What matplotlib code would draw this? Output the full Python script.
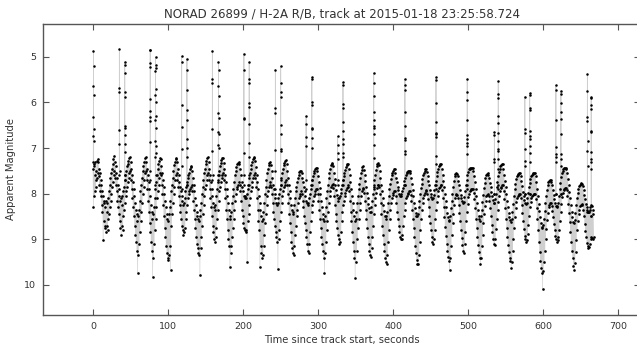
import numpy as np
import matplotlib
matplotlib.use("Agg")
import matplotlib.pyplot as plt

title = "NORAD 26899 / H-2A R/B, track at 2015-01-18 23:25:58.724"
xlabel = "Time since track start, seconds"
ylabel = "Apparent Magnitude"
xticks = [0, 100, 200, 300, 400, 500, 600, 700]
yticks = [5, 6, 7, 8, 9, 10]

# Sampled light curve: one "bright-side" and one "faint-side" reading per second
sample_start = 0.0
sample_step = 1.0
mag_bright = [
7.45,7.35,7.60,7.30,7.50,7.28,7.25,7.30,7.45,7.55,7.70,7.80,7.95,8.05,8.15,8.20,8.30,8.15,8.40,8.20,
8.10,7.95,7.80,7.65,7.55,7.45,7.35,7.25,7.17,7.30,7.40,7.55,7.65,7.80,7.90,8.05,8.15,8.10,8.25,8.05,
7.95,7.85,7.70,7.60,7.50,7.40,7.35,7.28,7.22,7.20,7.30,7.45,7.60,7.75,7.90,8.05,8.20,8.35,8.45,8.60,
8.50,8.35,8.15,7.95,7.80,7.65,7.50,7.40,7.30,7.22,7.20,7.30,7.45,7.60,7.75,7.90,8.05,8.25,8.40,8.55,
8.45,8.30,8.10,7.90,7.75,7.60,7.45,7.35,7.28,7.22,7.25,7.40,7.55,7.70,7.85,8.00,8.15,8.30,8.45,8.55,
8.60,8.45,8.30,8.15,7.95,7.80,7.65,7.50,7.38,7.30,7.24,7.22,7.30,7.45,7.60,7.75,7.85,7.95,8.05,8.15,
8.25,8.20,8.10,7.95,7.85,7.75,7.65,7.60,7.55,7.45,7.42,7.40,7.50,7.65,7.80,7.95,8.10,8.25,8.40,8.50,
8.55,8.60,8.50,8.35,8.20,8.00,7.85,7.70,7.55,7.45,7.35,7.28,7.22,7.20,7.30,7.45,7.60,7.75,7.90,8.05,
8.20,8.30,8.35,8.25,8.05,7.90,7.75,7.60,7.50,7.40,7.32,7.26,7.22,7.22,7.32,7.45,7.60,7.75,7.90,8.05,
8.20,8.35,8.50,8.55,8.40,8.20,8.05,7.90,7.75,7.60,7.50,7.42,7.36,7.32,7.30,7.35,7.45,7.60,7.75,7.85,
7.95,8.05,8.10,8.05,8.10,8.00,7.90,7.80,7.65,7.55,7.45,7.38,7.30,7.25,7.22,7.20,7.28,7.42,7.58,7.75,
7.90,8.05,8.20,8.35,8.50,8.60,8.55,8.40,8.20,8.00,7.85,7.70,7.55,7.45,7.38,7.32,7.30,7.38,7.50,7.65,
7.80,7.90,8.00,8.10,8.20,8.25,8.20,8.10,8.00,7.90,7.80,7.65,7.55,7.45,7.38,7.32,7.28,7.27,7.35,7.50,
7.65,7.80,7.95,8.10,8.25,8.35,8.45,8.40,8.25,8.10,7.95,7.85,7.75,7.65,7.58,7.52,7.50,7.50,7.55,7.65,
7.75,7.85,7.95,8.05,8.15,8.20,8.25,8.20,8.10,8.00,7.90,7.80,7.70,7.62,7.55,7.50,7.46,7.44,7.43,7.50,
7.62,7.75,7.88,8.00,8.15,8.30,8.45,8.55,8.60,8.50,8.30,8.10,7.95,7.80,7.65,7.55,7.45,7.38,7.34,7.33,
7.40,7.55,7.68,7.80,7.92,8.02,8.10,8.15,8.10,8.05,7.98,7.90,7.80,7.70,7.62,7.55,7.48,7.42,7.38,7.35,
7.35,7.45,7.60,7.75,7.90,8.05,8.20,8.35,8.50,8.60,8.55,8.40,8.20,8.05,7.90,7.78,7.65,7.55,7.48,7.42,
7.40,7.48,7.60,7.72,7.85,7.98,8.10,8.22,8.32,8.40,8.40,8.30,8.15,8.00,7.85,7.70,7.58,7.48,7.40,7.35,
7.33,7.38,7.50,7.65,7.80,7.95,8.10,8.25,8.38,8.48,8.55,8.50,8.40,8.20,8.05,7.90,7.78,7.68,7.60,7.54,
7.50,7.47,7.47,7.55,7.65,7.75,7.85,7.92,8.00,8.05,8.05,8.00,7.95,7.88,7.80,7.72,7.65,7.60,7.55,7.52,
7.50,7.50,7.50,7.55,7.65,7.78,7.92,8.05,8.20,8.32,8.42,8.48,8.50,8.45,8.30,8.15,8.00,7.88,7.78,7.68,
7.60,7.54,7.50,7.47,7.46,7.52,7.62,7.72,7.82,7.92,8.00,8.08,8.12,8.10,8.02,7.92,7.82,7.72,7.62,7.52,
7.45,7.40,7.37,7.36,7.36,7.45,7.58,7.72,7.86,8.00,8.15,8.30,8.42,8.52,8.58,8.60,8.50,8.32,8.15,8.00,
7.85,7.72,7.62,7.56,7.55,7.56,7.62,7.72,7.82,7.92,8.02,8.10,8.16,8.20,8.18,8.08,7.95,7.82,7.70,7.60,
7.52,7.47,7.45,7.44,7.43,7.43,7.43,7.50,7.62,7.75,7.90,8.05,8.20,8.35,8.48,8.55,8.60,8.50,8.35,8.18,
8.02,7.88,7.76,7.66,7.60,7.56,7.55,7.58,7.66,7.76,7.86,7.96,8.06,8.14,8.20,8.20,8.12,8.00,7.86,7.74,
7.62,7.52,7.45,7.40,7.37,7.36,7.36,7.45,7.58,7.72,7.86,8.00,8.15,8.30,8.42,8.52,8.58,8.62,8.55,8.40,
8.22,8.05,7.90,7.78,7.68,7.62,7.58,7.56,7.55,7.55,7.62,7.72,7.84,7.96,8.06,8.14,8.20,8.22,8.20,8.10,
7.98,7.86,7.76,7.68,7.62,7.58,7.56,7.55,7.55,7.55,7.62,7.75,7.90,8.05,8.22,8.38,8.52,8.65,8.72,8.75,
8.68,8.55,8.38,8.20,8.05,7.92,7.82,7.75,7.72,7.70,7.70,7.74,7.82,7.92,8.02,8.12,8.20,8.26,8.30,8.28,
8.20,8.05,7.90,7.76,7.64,7.55,7.50,7.46,7.44,7.43,7.43,7.45,7.55,7.68,7.82,7.96,8.10,8.25,8.40,8.52,
8.62,8.65,8.58,8.42,8.25,8.10,7.98,7.90,7.84,7.80,7.78,7.77,7.78,7.84,7.92,8.02,8.12,8.22,8.30,8.36,
8.40,8.40,8.35,8.30,8.25,8.28,8.35,8.45]
mag_faint = [
8.30,8.05,7.95,7.85,7.70,7.65,7.55,7.62,7.80,7.95,8.05,8.25,8.40,9.02,8.60,8.70,8.75,8.85,8.70,8.80,
8.55,8.45,8.30,8.15,8.00,7.85,7.75,7.60,7.50,7.65,7.80,7.95,8.15,8.30,8.45,8.60,8.75,8.90,8.70,8.80,
8.50,8.35,8.20,8.05,7.95,7.85,7.75,7.65,7.55,7.50,7.70,7.90,8.10,8.30,8.50,8.70,8.90,9.05,9.25,9.73,
9.35,9.10,8.85,8.60,8.40,8.20,8.00,7.85,7.70,7.55,7.50,7.70,7.90,8.15,8.40,8.65,8.85,9.05,9.25,9.82,
9.40,9.10,8.80,8.55,8.30,8.10,7.95,7.80,7.65,7.55,7.60,7.80,8.00,8.25,8.50,8.75,8.95,9.15,9.30,9.40,
9.45,9.35,9.15,9.68,8.70,8.45,8.20,8.00,7.85,7.70,7.60,7.55,7.70,7.85,8.05,8.25,8.40,8.55,8.70,8.80,
8.90,8.85,8.75,8.55,8.40,8.25,8.10,8.00,7.95,7.90,7.85,7.80,7.95,8.15,8.35,8.55,8.75,8.95,9.10,9.20,
9.30,9.35,9.78,9.20,8.95,8.70,8.45,8.25,8.05,7.90,7.80,7.70,7.60,7.55,7.70,7.90,8.10,8.30,8.50,8.70,
8.85,9.00,9.05,8.95,8.75,8.55,8.35,8.15,7.95,7.85,7.75,7.65,7.60,7.55,7.70,7.90,8.10,8.35,8.55,8.80,
9.00,9.15,9.60,9.30,9.15,8.95,8.75,8.55,8.35,8.15,8.00,7.90,7.85,7.80,7.75,7.80,7.95,8.15,8.35,8.50,
8.65,8.75,8.80,8.85,8.80,9.50,8.60,8.45,8.25,8.10,7.95,7.85,7.75,7.65,7.60,7.55,7.65,7.85,8.10,8.35,
8.60,8.80,9.60,9.15,9.30,9.40,9.35,9.15,8.90,8.65,8.45,8.25,8.05,7.95,7.85,7.80,7.75,7.85,8.00,8.20,
8.40,8.55,8.70,8.85,8.95,9.05,9.65,9.00,8.80,8.60,8.40,8.20,8.05,7.95,7.85,7.80,7.75,7.70,7.80,8.00,
8.20,8.45,8.65,8.85,9.05,9.20,9.30,9.35,9.15,8.90,8.70,8.50,8.35,8.20,8.10,8.05,8.00,7.95,8.00,8.15,
8.30,8.50,8.65,8.80,8.95,9.10,9.25,9.30,9.10,8.85,8.60,8.40,8.25,8.15,8.05,8.00,7.95,7.90,7.90,8.00,
8.15,8.35,8.55,8.75,8.95,9.10,9.25,9.40,9.75,9.30,9.05,8.80,8.60,8.40,8.20,8.05,7.95,7.85,7.80,7.78,
7.88,8.05,8.25,8.45,8.60,8.75,8.90,9.00,9.10,9.05,8.85,8.60,8.40,8.25,8.15,8.05,7.98,7.92,7.88,7.85,
7.82,7.95,8.15,8.40,8.60,8.85,9.05,9.25,9.40,9.85,9.50,9.25,9.00,8.75,8.55,8.35,8.20,8.05,7.95,7.90,
7.88,7.98,8.15,8.35,8.55,8.75,8.95,9.10,9.25,9.35,9.38,9.20,8.95,8.70,8.45,8.25,8.10,7.98,7.88,7.82,
7.80,7.85,8.00,8.20,8.45,8.70,8.90,9.10,9.25,9.40,9.50,9.55,9.35,9.05,8.80,8.55,8.35,8.20,8.10,8.02,
7.98,7.95,7.95,8.05,8.20,8.40,8.55,8.70,8.85,8.95,9.00,9.00,8.90,8.70,8.50,8.35,8.20,8.10,8.05,8.00,
7.98,7.95,7.95,8.02,8.15,8.35,8.55,8.75,8.95,9.15,9.30,9.45,9.55,9.55,9.35,9.05,8.80,8.55,8.35,8.20,
8.10,8.02,7.98,7.95,7.92,8.00,8.12,8.30,8.48,8.65,8.80,8.95,9.05,9.10,9.00,8.80,8.55,8.35,8.18,8.05,
7.95,7.88,7.85,7.82,7.82,7.92,8.10,8.30,8.52,8.72,8.92,9.10,9.25,9.38,9.48,9.68,9.40,9.15,8.90,8.65,
8.45,8.25,8.10,8.02,8.00,8.02,8.10,8.25,8.42,8.60,8.80,8.98,9.12,9.25,9.30,9.10,8.85,8.60,8.40,8.22,
8.08,8.00,7.95,7.92,7.90,7.90,7.90,7.98,8.12,8.32,8.55,8.75,8.95,9.12,9.28,9.40,9.55,9.40,9.15,8.90,
8.65,8.45,8.28,8.15,8.06,8.02,8.00,8.05,8.16,8.32,8.50,8.68,8.85,9.00,9.10,9.12,9.00,8.78,8.55,8.35,
8.18,8.05,7.95,7.88,7.85,7.82,7.82,7.95,8.12,8.32,8.55,8.75,8.95,9.12,9.28,9.40,9.48,9.62,9.50,9.25,
9.00,8.75,8.52,8.32,8.18,8.10,8.05,8.02,8.00,8.00,8.10,8.25,8.42,8.60,8.78,8.92,9.00,9.05,9.02,8.88,
8.68,8.48,8.30,8.18,8.10,8.05,8.02,8.00,8.00,8.00,8.12,8.32,8.55,8.80,9.05,9.28,9.48,9.62,9.75,10.10,
9.70,9.50,9.25,9.00,8.78,8.58,8.42,8.30,8.24,8.20,8.20,8.26,8.38,8.52,8.66,8.80,8.92,9.00,9.05,9.02,
8.95,8.80,8.60,8.40,8.22,8.08,7.98,7.92,7.90,7.88,7.88,7.92,8.05,8.22,8.42,8.62,8.85,9.05,9.25,9.42,
9.58,9.67,9.52,9.28,9.02,8.80,8.60,8.45,8.35,8.28,8.24,8.22,8.25,8.36,8.50,8.66,8.82,8.96,9.08,9.15,
9.20,9.18,9.10,9.00,8.95,8.98,9.00,8.95]

# Glints (short flashes): centre time and magnitudes sampled through each flash
flash_times = [0.4, 35, 42, 76, 83, 118, 125, 159, 167, 201, 208, 243, 250, 284, 291.5,
               326, 333, 374, 415.6, 457, 498.7, 535, 540, 575.6, 582, 617, 623.6, 659, 664]
flash_mags = [
    [7.30, 6.74, 6.32, 5.65, 4.87, 5.20, 5.83, 6.58, 6.85, 7.40],
    [7.60, 6.90, 5.76, 4.83, 5.69, 6.60, 7.50],
    [7.60, 7.09, 6.72, 6.52, 5.76, 5.18, 5.11, 5.35, 5.89, 6.56, 6.90, 7.70],
    [7.70, 6.87, 6.32, 5.93, 5.13, 4.84, 4.86, 5.22, 6.18, 6.40, 7.50],
    [7.80, 7.20, 6.85, 6.38, 5.83, 5.30, 5.00, 5.18, 5.25, 5.70, 6.00, 6.30, 6.55, 6.95, 7.10, 7.60],
    [7.90, 7.03, 6.05, 4.99, 5.12, 6.54, 7.40],
    [7.80, 6.81, 6.16, 5.29, 5.04, 5.72, 6.39, 7.00, 7.20, 7.80],
    [7.70, 7.07, 5.48, 4.87, 5.58, 6.58, 7.60],
    [7.70, 6.93, 6.65, 6.23, 5.64, 5.11, 5.28, 5.86, 6.34, 6.70, 7.00, 7.60],
    [7.80, 7.10, 6.34, 4.93, 5.29, 6.36, 7.60],
    [7.80, 7.20, 6.48, 6.01, 5.49, 5.11, 5.58, 6.09, 6.88, 7.60],
    [7.90, 7.04, 6.12, 5.28, 6.23, 7.50],
    [7.80, 7.07, 6.49, 5.76, 5.20, 5.58, 5.88, 6.70, 7.01, 7.70],
    [7.90, 6.96, 6.47, 6.30, 6.76, 7.70],
    [7.80, 7.00, 6.56, 5.98, 5.45, 5.49, 6.05, 6.59, 6.78, 7.70],
    [7.80, 7.25, 6.94, 6.74, 7.10, 7.70],
    [7.80, 7.20, 6.81, 6.43, 6.03, 5.56, 5.62, 6.12, 6.63, 6.90, 7.10, 7.70],
    [7.90, 7.21, 6.70, 6.39, 5.86, 5.35, 5.57, 6.20, 6.52, 6.56, 6.94, 7.80],
    [7.80, 7.07, 6.78, 6.22, 5.62, 5.49, 5.72, 6.51, 6.82, 7.12, 7.80],
    [7.90, 7.35, 7.17, 6.67, 6.42, 5.51, 5.45, 6.01, 6.75, 6.70, 7.80],
    [7.90, 7.12, 6.72, 6.38, 5.78, 5.49, 5.94, 6.80, 6.88, 6.95, 7.80],
    [8.00, 7.25, 6.72, 6.65, 7.30, 8.00],
    [7.80, 7.25, 7.07, 6.85, 6.46, 5.90, 5.54, 5.81, 6.29, 6.67, 7.02, 7.45, 7.90],
    [8.00, 7.28, 6.67, 5.87, 6.59, 7.01, 7.40, 8.00],
    [8.00, 7.10, 6.74, 6.16, 5.80, 5.84, 6.12, 6.63, 6.80, 6.96, 7.30, 8.00],
    [8.00, 7.14, 6.38, 5.62, 5.72, 6.97, 7.20, 7.30, 8.00],
    [8.00, 7.12, 6.70, 6.20, 5.81, 5.74, 6.01, 6.36, 7.25, 7.40, 8.00],
    [8.40, 7.07, 6.32, 5.38, 5.74, 6.41, 6.85, 7.40, 8.40],
    [8.50, 7.09, 6.63, 6.14, 5.88, 5.90, 6.05, 6.65, 7.25, 7.30, 7.45, 8.50],
]

W, H = 637, 345
fig = plt.figure(figsize=(W / 100, H / 100), dpi=100)
ax = fig.add_axes([43 / W, 30 / H, (640 - 43) / W, 291 / H])

text_color = "#333333"
line_color = "#cfcfcf"

# main light-curve: interleave bright-side (at t) and faint-side (at t + half step)
n = len(mag_bright)
t_b = sample_start + sample_step * np.arange(n)
t_all = np.empty(2 * n)
m_all = np.empty(2 * n)
t_all[0::2] = t_b
t_all[1::2] = t_b + sample_step / 2
m_all[0::2] = mag_bright
m_all[1::2] = mag_faint

ax.plot(t_all, m_all, '-', color=line_color, lw=0.45, zorder=1)
ax.plot(t_all, m_all, 'o', color='black', ms=1.9, mew=0, zorder=2)

for ft, fm in zip(flash_times, flash_mags):
    ft_arr = ft + 0.05 * np.arange(len(fm))
    ax.plot(ft_arr, fm, '-', color=line_color, lw=0.6, zorder=1)
    ax.plot(ft_arr, fm, 'o', color='black', ms=1.8, mew=0, zorder=2)

ax.set_xlim(-66.7, 729.3)
ax.set_ylim(10.66, 4.28)
ax.set_xticks(xticks)
ax.set_yticks(yticks)
ax.tick_params(direction='in', length=4, width=0.8, top=True, right=True,
               colors='#555555', labelcolor=text_color, labelsize=6.8, pad=5)
for s in ax.spines.values():
    s.set_color('#555555')
    s.set_linewidth(1.0)

ax.set_title(title, fontsize=8.5, color=text_color, pad=5)
ax.set_xlabel(xlabel, fontsize=7.2, color=text_color, labelpad=3)
ax.set_ylabel(ylabel, fontsize=7.2, color=text_color, labelpad=6)

fig.savefig("out.png", dpi=100)
